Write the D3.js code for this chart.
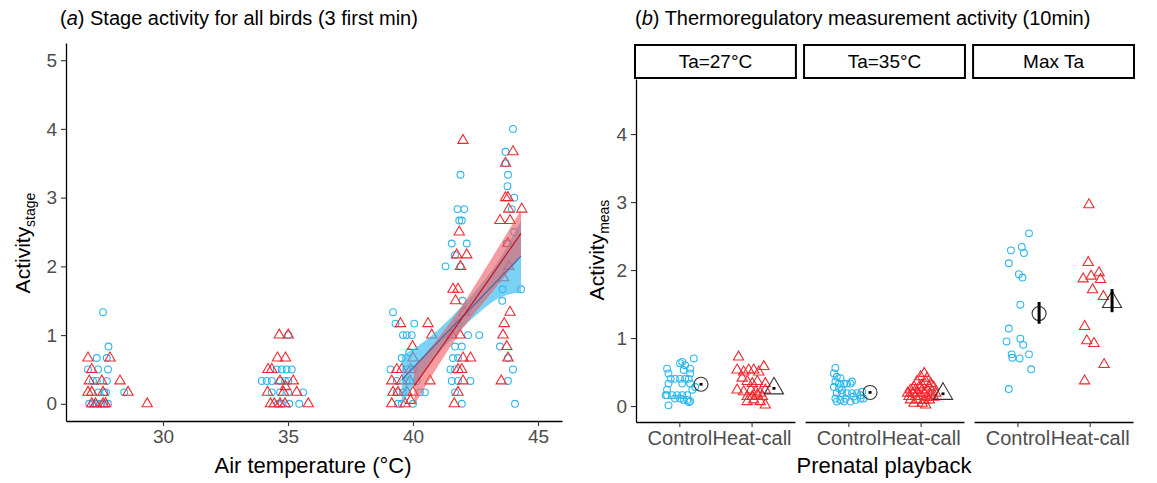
<!DOCTYPE html>
<html>
<head>
<meta charset="utf-8">
<script src="https://cdn.jsdelivr.net/npm/d3@7"></script>
<style>
body { margin: 0; background: #fff; }
text { font-family: "Liberation Sans", Arial, sans-serif; }
</style>
</head>
<body>
<div id="chart-area"></div>
<script>
let width = 1157,
height = 483;

// ---- data : panel (a), [air temperature, activity]
let stageControl = [
	[27.05,0],[27.2,0],[27.35,0],[27.5,0],[27.65,0],[27.8,0],
	[27.4,0.167],[27.65,0.167],[27.72,0.167],[28.45,0.167],
	[27.2,0.333],[27.35,0.333],[27.75,0.333],
	[27.0,0.5],[27.4,0.5],[27.8,0.5],
	[27.35,0.667],[27.75,0.667],[27.82,0.833],[27.6,1.333],
	[34.6,0],[34.75,0],[35.05,0],[35.45,0],
	[34.35,0.167],[34.68,0.167],[35.01,0.167],[35.61,0.167],
	[33.95,0.333],[34.15,0.333],[34.35,0.333],[34.68,0.333],[34.88,0.333],[35.01,0.333],
	[34.55,0.5],[34.75,0.5],[34.95,0.5],[35.15,0.5],[35.01,1.0],
	[39.2,1.333],[39.3,1.167],[40.05,1.167],[39.6,1.0],[39.75,1.0],[39.95,1.0],[39.55,0.667],[39.85,0.75],
	[39.1,0.5],[39.75,0.5],[40.0,0.5],[39.35,0.333],[39.75,0.333],[40.15,0.333],
	[39.35,0.167],[39.6,0.167],[40.28,0.167],[40.48,0.167],[39.4,0],[39.55,0],[40.0,0],
	[41.9,3.333],[41.78,2.833],[42.05,2.833],[41.85,2.667],[41.95,2.667],[41.55,2.333],[42.15,2.333],
	[41.68,2.167],[41.3,2.0],[41.9,2.0],[41.98,1.5],[41.8,1.167],[42.2,1.0],[42.65,1.0],
	[41.68,0.833],[41.95,0.833],[41.6,0.667],[41.8,0.667],[41.5,0.5],[41.68,0.5],
	[41.55,0.333],[41.8,0.333],[42.3,0.333],[41.68,0.167],[41.95,0],
	[44.0,4.0],[43.7,3.667],[43.7,3.5],[43.8,3.333],[43.78,3.167],[44.05,3.0],[43.95,2.833],
	[44.05,2.5],[43.75,2.333],[43.58,1.667],[44.32,1.667],[43.57,1.5],[43.48,0.833],[43.8,0.667],
	[44.0,0.5],[43.8,0.333],[44.08,0]
]
let stageHeat = [
	[27.15,0],[27.3,0],[27.6,0],[27.7,0],[29.37,0],
	[27.0,0.167],[27.15,0.167],[27.6,0.167],[28.6,0.167],
	[27.05,0.333],[27.55,0.333],[28.28,0.333],[27.15,0.5],[27.0,0.667],[27.88,0.667],
	[34.3,0],[34.45,0],[34.68,0],[34.88,0],[35.81,0],
	[34.18,0.167],[34.82,0.167],[35.35,0.167],[34.9,0.25],[34.68,0.333],[35.21,0.333],
	[34.2,0.5],[34.35,0.5],[34.58,0.667],[34.9,0.667],[34.65,1.0],[35.01,1.0],
	[39.5,1.167],[40.6,1.167],[40.75,1.0],[39.98,0.833],[40.0,0.667],
	[39.35,0.5],[39.55,0.5],[39.9,0.5],[39.15,0.333],[39.55,0.333],[39.88,0.333],[40.68,0.333],
	[39.2,0.167],[39.4,0.167],[39.75,0.167],[40.0,0.167],[39.15,0],[39.68,0],[39.9,0.05],
	[42.0,3.833],[41.85,2.5],[41.75,2.167],[42.15,2.167],[41.9,2.0],[41.6,1.667],[41.8,1.667],
	[41.7,1.5],[42.05,1.333],[41.55,1.0],[41.88,1.0],[42.0,0.667],[42.3,0.667],
	[41.8,0.5],[41.95,0.5],[42.0,0.333],[41.8,0.167],[41.65,0],
	[44.0,3.667],[43.7,3.5],[43.7,3.0],[43.8,3.0],[43.83,2.833],[44.35,2.833],[43.48,2.667],[43.88,2.667],
	[43.8,2.333],[43.83,2.0],[43.62,1.833],[43.88,1.333],[43.65,1.167],[43.6,1.0],[43.75,0.833],
	[43.8,0.667],[43.53,0.333]
]
// linear fits [temp, fit, lower, upper]
let fitControl = [[39.55,0.35,0.0,0.7],[40.5,0.71,0.5,0.92],[41.5,1.09,0.93,1.25],[42.5,1.46,1.28,1.64],[43.5,1.84,1.55,2.13],[44.32,2.15,1.62,2.66]]
let fitHeat = [[40.05,0.26,-0.02,0.55],[41,0.75,0.55,0.95],[42,1.27,1.1,1.45],[43,1.79,1.55,2.03],[44.32,2.48,2.15,2.82]]
let tempTicks = [30, 35, 40, 45]
let stageTicks = [0, 1, 2, 3, 4, 5]

// ---- data : panel (b), [jitter offset, activity]
let panels = ['Ta=27°C', 'Ta=35°C', 'Max Ta']
let groups = ['Control', 'Heat-call']
let measControl = [
	[[-0.15,0.01],[-0.19,0.16],[-0.10,0.16],[-0.03,0.16],[0.04,0.16],[0.11,0.16],[-0.17,0.16],
	 [-0.06,0.11],[0.01,0.11],[0.11,0.09],[0.13,0.06],[0.15,0.07],[0.06,0.09],
	 [-0.17,0.24],[0.18,0.24],[-0.15,0.33],[0.04,0.33],[0.15,0.33],
	 [-0.12,0.40],[-0.06,0.40],[0.01,0.40],[0.08,0.40],[0.13,0.40],[0.15,0.48],
	 [-0.15,0.48],[-0.17,0.55],[0.01,0.63],[0.04,0.65],[0.08,0.60],[0.15,0.55],[0.2,0.70],[0.06,0.53],[0.22,0.28]],
	[[-0.18,0.56],[-0.2,0.48],[-0.16,0.43],[-0.11,0.41],[-0.18,0.36],[-0.13,0.33],[-0.06,0.33],[-0.2,0.28],
	 [-0.13,0.26],[-0.09,0.235],[-0.02,0.33],[0.03,0.33],[0.05,0.36],[-0.16,0.19],[-0.09,0.19],[-0.02,0.19],
	 [0.05,0.19],[0.12,0.19],[0.17,0.16],[0.19,0.21],[-0.18,0.11],[-0.11,0.09],[-0.04,0.11],[0.03,0.065],
	 [0.1,0.09],[0.17,0.11],[-0.16,0.065],[-0.06,0.065],[0.07,0.14],[0.21,0.11]],
	[[0.16,2.54],[-0.09,2.29],[0.06,2.34],[0.09,2.25],[-0.12,2.10],[0.02,1.94],[0.07,1.89],[0.04,1.49],
	 [-0.12,1.14],[0.04,0.99],[-0.15,0.95],[0.08,0.90],[-0.08,0.76],[-0.07,0.71],[0.03,0.70],[0.16,0.76],
	 [0.19,0.54],[-0.12,0.25]]
]
let measHeat = [
	[[-0.18,0.72],[-0.2,0.53],[-0.11,0.50],[-0.04,0.53],[0.03,0.53],[0.10,0.50],[0.17,0.58],
	 [-0.13,0.41],[-0.06,0.36],[0.01,0.33],[0.08,0.36],[0.19,0.33],
	 [-0.2,0.235],[-0.11,0.21],[-0.01,0.235],[0.06,0.21],[0.12,0.19],[0.19,0.235],
	 [-0.06,0.14],[0.01,0.14],[0.08,0.16],[0.15,0.14],[-0.06,0.065],[0.03,0.09],[0.12,0.065],[0.19,0.015]],
	[[0.05,0.48],[0,0.43],[0.09,0.41],[-0.05,0.36],[0.07,0.36],[0.14,0.33],[0.02,0.31],[-0.09,0.28],
	 [-0.02,0.28],[0.12,0.28],[0.18,0.28],[-0.14,0.235],[-0.07,0.235],[0.02,0.235],[0.09,0.235],[0.16,0.21],
	 [-0.18,0.19],[-0.11,0.19],[-0.05,0.19],[0.05,0.19],[0.14,0.16],[0.21,0.19],[-0.16,0.14],[-0.07,0.14],
	 [0,0.14],[0.09,0.13],[0.18,0.13],[-0.14,0.09],[-0.05,0.09],[0.05,0.08],[0.12,0.09],[-0.09,0.04],
	 [0.02,0.04],[0.07,0.015]],
	[[-0.01,2.96],[-0.02,2.11],[0.13,1.96],[0.02,1.91],[-0.09,1.87],[0.15,1.86],[0.04,1.71],[0.19,1.61],
	 [-0.07,1.17],[-0.04,0.96],[0.06,0.92],[0.2,0.61],[-0.07,0.37]]
]
// group means with error bars [mean, lower, upper]
let meanControl = [[0.32,0.30,0.34],[0.20,0.18,0.22],[1.36,1.21,1.53]]
let meanHeat = [[0.26,0.24,0.28],[0.18,0.16,0.20],[1.53,1.38,1.72]]
let measTicks = [0, 1, 2, 3, 4]

let blue = '#2bb7ec',
red = '#ee2a2f'

let svg = d3.select("#chart-area").append("svg")
.attr("width", width)
.attr("height", height)
.style('display', 'block')

let tri = d3.symbol().type(d3.symbolTriangle).size(46)
let triBig = d3.symbol().type(d3.symbolTriangle).size(160)

function styleAxis(g, fs) {
	g.select('.domain').attr('stroke', '#000').attr('stroke-width', 1.3)
	g.selectAll('.tick line').attr('stroke', '#333').attr('stroke-width', 1.1)
	g.selectAll('.tick text').attr('fill', '#4d4d4d').style('font-size', fs || '19px')
		.style('font-family', '"Liberation Sans", Arial, sans-serif')
}

// =================== panel (a)
let xL = d3.scaleLinear().domain([26.12, 45.96]).range([66, 562])
let yL = d3.scaleLinear().domain([-0.25, 5.25]).range([421, 43])

let gA = svg.append('g')

gA.selectAll('.ctl')
	.data(stageControl)
	.enter().append('circle')
	.attr('cx', d => xL(d[0]))
	.attr('cy', d => yL(d[1]))
	.attr('r', 3.4)
	.attr('fill', 'none')
	.attr('stroke', blue)
	.attr('stroke-width', 1.1)

gA.selectAll('.heat')
	.data(stageHeat)
	.enter().append('path')
	.attr('d', tri)
	.attr('transform', d => 'translate(' + xL(d[0]) + ',' + yL(d[1]) + ')')
	.attr('fill', 'none')
	.attr('stroke', red)
	.attr('stroke-width', 1.1)

let band = d3.area().x(d => xL(d[0])).y0(d => yL(d[2])).y1(d => yL(d[3])).curve(d3.curveMonotoneX)
let fitLine = d3.line().x(d => xL(d[0])).y(d => yL(d[1]))

gA.append('path').datum(fitControl).attr('d', band).attr('fill', '#33bbf0').attr('opacity', 0.65)
gA.append('path').datum(fitHeat).attr('d', band).attr('fill', '#f05a60').attr('opacity', 0.6)
gA.append('path').datum(fitControl).attr('d', fitLine).attr('fill', 'none').attr('stroke', '#4a68a8').attr('stroke-width', 1.2)
gA.append('path').datum(fitHeat).attr('d', fitLine).attr('fill', 'none').attr('stroke', '#cc1118').attr('stroke-width', 1.2)

// tickSize sets the outer size too, so tickSizeOuter goes after it
let axA = gA.append('g').attr('transform', 'translate(0,421)')
	.call(d3.axisBottom(xL).tickValues(tempTicks).tickFormat(d3.format('d')).tickSize(5).tickSizeOuter(0).tickPadding(4))
let ayA = gA.append('g').attr('transform', 'translate(66,0)')
	.call(d3.axisLeft(yL).tickValues(stageTicks).tickFormat(d3.format('d')).tickSize(5).tickSizeOuter(0).tickPadding(4))
styleAxis(axA)
styleAxis(ayA)

let tA = svg.append('text').attr('x', 60).attr('y', 25).style('font-size', '20px')
tA.append('tspan').text('(')
tA.append('tspan').text('a').style('font-style', 'italic')
tA.append('tspan').text(') Stage activity for all birds (3 first min)')

svg.append('text').attr('x', 313).attr('y', 473).attr('text-anchor', 'middle')
	.style('font-size', '22px').text('Air temperature (°C)')

let yTitleA = svg.append('text').attr('transform', 'translate(30,243) rotate(-90)')
	.attr('text-anchor', 'middle').style('font-size', '21px')
yTitleA.append('tspan').text('Activity')
yTitleA.append('tspan').text('stage').attr('dy', 5).style('font-size', '14px')

// =================== panel (b)
let yR = d3.scaleLinear().domain([-0.235, 4.81]).range([422, 79])
let panelX = d3.scaleBand().domain(panels).range([636, 1133]).paddingInner(0.06)

let ayB = svg.append('g').attr('transform', 'translate(636,0)')
	.call(d3.axisLeft(yR).tickValues(measTicks).tickFormat(d3.format('d')).tickSize(5).tickSizeOuter(0).tickPadding(4))
styleAxis(ayB)

panels.forEach((p, i) => {
	let x0 = panelX(p)
	let x = d3.scaleLinear().domain([0.4, 2.6]).range([x0, x0 + panelX.bandwidth()])
	let g = svg.append('g')

	// strip
	g.append('rect').attr('x', x0 - 1).attr('y', 45).attr('width', panelX.bandwidth() + 2).attr('height', 33)
		.attr('fill', '#fff').attr('stroke', '#000').attr('stroke-width', 2)
	g.append('text').attr('x', x0 + panelX.bandwidth() / 2).attr('y', 68).attr('text-anchor', 'middle')
		.style('font-size', '19px').text(p)

	g.selectAll('.c').data(measControl[i]).enter().append('circle')
		.attr('cx', d => x(1 + d[0])).attr('cy', d => yR(d[1])).attr('r', 3.4)
		.attr('fill', 'none').attr('stroke', blue).attr('stroke-width', 1.1)
	g.selectAll('.h').data(measHeat[i]).enter().append('path')
		.attr('d', tri)
		.attr('transform', d => 'translate(' + x(2 + d[0]) + ',' + yR(d[1]) + ')')
		.attr('fill', 'none').attr('stroke', red).attr('stroke-width', 1.1)

	// means
	let mc = meanControl[i], mh = meanHeat[i]
	g.append('circle').attr('cx', x(1.3)).attr('cy', yR(mc[0])).attr('r', 7)
		.attr('fill', 'none').attr('stroke', '#333').attr('stroke-width', 1.1)
	g.append('path').attr('d', triBig).attr('transform', 'translate(' + x(2.31) + ',' + yR(mh[0]) + ')')
		.attr('fill', 'none').attr('stroke', '#333').attr('stroke-width', 1.1)
	g.append('line').attr('x1', x(1.3)).attr('x2', x(1.3)).attr('y1', yR(mc[1])).attr('y2', yR(mc[2]))
		.attr('stroke', '#000').attr('stroke-width', 3)
	g.append('line').attr('x1', x(2.31)).attr('x2', x(2.31)).attr('y1', yR(mh[1])).attr('y2', yR(mh[2]))
		.attr('stroke', '#000').attr('stroke-width', 3)

	let ax = g.append('g').attr('transform', 'translate(0,422)')
		.call(d3.axisBottom(x).tickValues([1, 2]).tickFormat((d) => groups[d - 1]).tickSize(5).tickSizeOuter(0).tickPadding(4))
	styleAxis(ax, '20px')
})

let tB = svg.append('text').attr('x', 635).attr('y', 25).style('font-size', '20px')
tB.append('tspan').text('(')
tB.append('tspan').text('b').style('font-style', 'italic')
tB.append('tspan').text(') Thermoregulatory measurement activity (10min)')

svg.append('text').attr('x', 884).attr('y', 473).attr('text-anchor', 'middle')
	.style('font-size', '22px').text('Prenatal playback')

let yTitleB = svg.append('text').attr('transform', 'translate(604,250) rotate(-90)')
	.attr('text-anchor', 'middle').style('font-size', '21px')
yTitleB.append('tspan').text('Activity')
yTitleB.append('tspan').text('meas').attr('dy', 5).style('font-size', '14px')
</script>
</body>
</html>
